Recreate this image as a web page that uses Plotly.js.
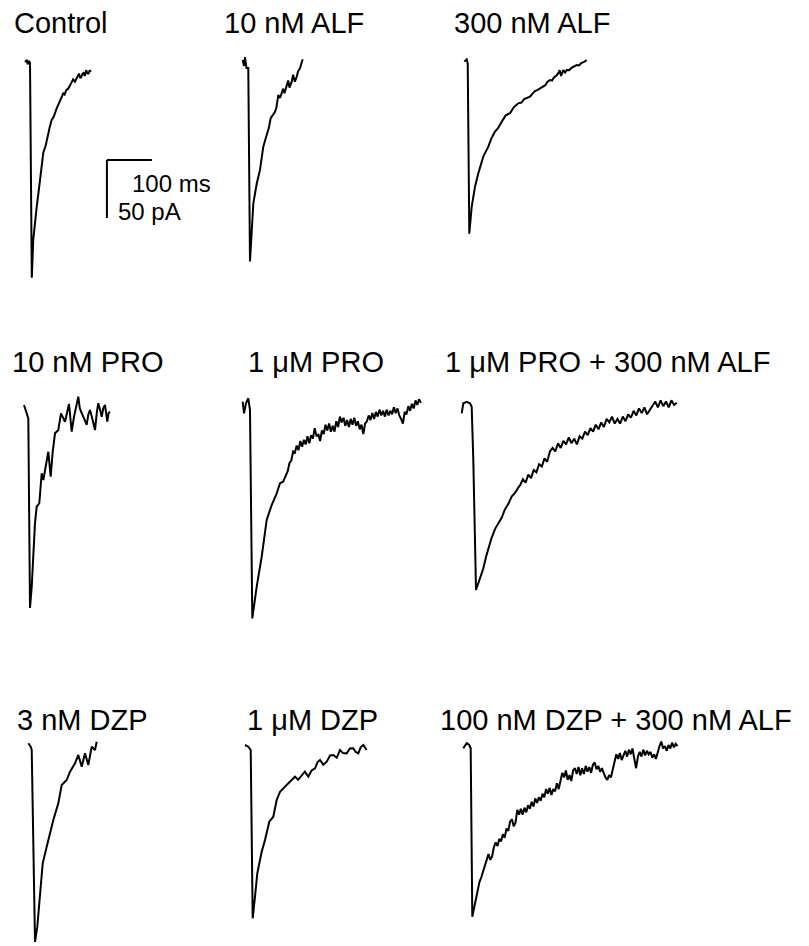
<!DOCTYPE html>
<html>
<head>
<meta charset="utf-8">
<script src="https://cdn.plot.ly/plotly-3.0.1.min.js"></script>
<style>
html,body{margin:0;padding:0;background:#fff;}
#chart{width:809px;height:946px;}
</style>
</head>
<body>
<div id="chart"></div>
<script>
// ---------------- DATA (time in ms from sweep start, current in pA relative to baseline) ----------------
const labels = ["Control", "10 nM ALF", "300 nM ALF",
                "10 nM PRO", "1 \u03bcM PRO", "1 \u03bcM PRO + 300 nM ALF",
                "3 nM DZP", "1 \u03bcM DZP", "100 nM DZP + 300 nM ALF"];

const control_t  = [0, 4.4, 6, 8.9, 11.1, 15.1, 18.4, 22, 26, 33.3, 37, 40.7, 46, 51.8, 55, 59.3, 64, 70.4, 74, 78, 82, 85.1, 88, 92, 96, 100, 104, 107, 111, 115, 118, 120, 123, 125, 128, 130, 133, 136, 139, 141, 144, 146];
const control_pA = [0, 1.7, -2, 0.9, -0.9, -186, -153, -138, -125, -102, -92, -78, -72, -61, -56, -50, -47, -40, -37, -33, -31, -27, -28, -24, -23, -20, -18, -15, -17, -14, -12, -10, -14, -13, -10, -9.5, -12, -7, -10, -10, -7, -8.6];

const alf10_t  = [0, 2.9, 5.1, 8.4, 12.4, 16.2, 23.6, 31.1, 38.4, 45.8, 53.3, 58, 62.2, 67, 71.8, 75, 79.1, 83, 86.7, 90, 93, 97.8, 101, 104, 108.9, 112, 116, 120, 123, 127.3, 130, 133.3];
const alf10_pA = [1.7, -3.4, 4.3, -5.2, -5.2, -172, -122, -105, -93, -73, -63, -57, -48.5, -46, -43, -39, -28.4, -31, -27, -23, -27, -21.3, -16, -22, -17, -11, -17, -12.7, -8, -5.4, -2, 2.3];

const alf300_t  = [0, 5.3, 7.6, 11.1, 16.4, 23.8, 31.1, 42.2, 53.3, 60, 68.2, 75, 83.1, 92, 101.6, 110, 120, 127, 133, 140, 146, 152, 157, 163, 168.2, 174, 180, 185, 190.4, 195, 200, 204, 208.9, 212, 215, 220, 224, 227.6, 233, 238, 244, 249.8, 255, 260, 266, 272];
const alf300_pA = [0.3, 2.3, -1.1, -148, -125, -107.5, -96, -81.6, -73, -66, -60, -57, -51.5, -46, -44.2, -39, -35.6, -35, -32, -31, -29.9, -27, -25, -24, -22.7, -21, -20, -17, -15.5, -16, -13, -12, -9.7, -7, -12, -7, -9, -6.9, -7, -5, -4, -2.6, -3, -1, 0, 1.7];

const pro10_t  = [0, 3.3, 6, 9.6, 13.3, 17.1, 24.4, 28.2, 34, 39.3, 42.9, 48.9, 54, 59.3, 63.8, 68.9, 76.2, 82.2, 91.1, 100, 106, 111.1, 116, 120.7, 124, 128.2, 134, 139.3, 143, 146.7, 152, 157.8, 162, 165.1, 169, 172.7, 176, 180, 185.1, 188, 191.1];
const pro10_pA = [0, -4.3, -7.2, -11.5, -175, -157, -102, -87.7, -84.7, -58.9, -64.7, -50.3, -40.3, -61.8, -40.3, -24.4, -21.6, -7.2, -14.4, 0.9, -23, -10.1, -2, 7.2, -3, -7.2, -13, -17.2, -8, -4.3, -12, -21.6, -6, 1.5, -4, -10.1, -3, 0, -14.4, -7, -5.8];

const pro1_t  = [0, 2.9, 7.3, 12.4, 16.2, 21.3, 31.1, 42.2, 53.3, 64.4, 75.6, 82.9, 90, 96,
  100,104,108,112,116,120,124,128,132,136,140,144,148,152,156,160,164,168,172,176,180,184,188,192,196,200,204,208,212,216,220,224,228,232,236,240,244,248,252,256,260,264,268,272,276,280,284,288,292,296,300,304,308,312,316,320,324,328,332,336,340,344,348,352,356,360,364,368,372,376,380,384,388,392,396];
const pro1_pA = [2.8, -7.2, 1.5, 5.8, -4.3, -184, -156.6, -130.8, -99.1, -86.2, -76.1, -67.5, -66, -60,
  -57,-50,-48,-40,-41,-35,-39,-31,-36,-30,-34,-27,-33,-26,-29,-20,-27,-25,-31,-22,-25,-17,-22,-16,-23,-18,-23,-14,-19,-10,-15,-11,-18,-13,-19,-12,-17,-11,-18,-14,-21,-17,-25,-16,-14,-9,-13,-7,-12,-6,-10,-4,-9,-5,-10,-4,-9,-5,-8,-2,-7,-3,-9,-12,-16,-6,-8,-1,-5,1,-3,4,0,5,2];

const proAlf_t  = [0, 3.6, 11.1, 18.4, 22.2, 25.8, 31.8, 36.9, 42, 48, 54, 59, 66, 74, 81, 89, 96, 104, 111, 118, 126,
  130,136,142,148,154,160,166,172,178,184,190,196,202,208,214,220,226,232,238,244,250,256,262,268,274,280,286,292,298,304,310,316,322,328,334,340,346,352,358,364,370,376,382,388,394,400,406,412,418,424,430,436,442,448,454,460,466,472,478];
const proAlf_pA = [-7.2, 1.5, 2.8, 1.5, -1.5, -47.4, -159.5, -153.7, -147, -141, -131, -124, -115, -107, -102, -97, -90, -85, -79, -76, -71,
  -69,-64,-67,-60,-63,-56,-58,-51,-53,-46,-49,-40,-37,-40,-33,-37,-31,-34,-28,-33,-29,-34,-27,-29,-23,-26,-20,-23,-17,-21,-15,-19,-12,-15,-10,-16,-12,-16,-10,-14,-8,-11,-5,-9,-3,-7,-2,-8,-4,-1,3,-2,4,-1,3,-2,4,0,2];

const dzp3_t  = [0, 5.3, 7.6, 14.9, 20, 26, 32, 40.9, 48.2, 55.6, 66.7, 74.2, 85.3, 92.7, 103.8, 111.1, 118.7, 126, 133.3, 140.9, 148.2, 152];
const dzp3_pA = [1.5, -1.5, -4.3, -169.8, -156.6, -130.8, -102, -87.7, -76.1, -64.7, -50.3, -34.5, -30.2, -23, -15.8, -8.6, -18.7, -7.2, -17.2, -1.5, -4.3, 2.8];

const dzp1_t  = [0, 7.3, 12.7, 17.1, 22.2, 27.3, 37.1, 44.4, 54, 62.9, 70.4, 77.8, 88.9, 100, 106, 111.1, 118, 126, 133, 140.7, 148, 155.6, 161, 166.7, 174, 181.6, 189, 196.2, 204, 211.1, 218, 226, 233, 240.7, 246, 251.8, 257, 262.9, 270.4];
const dzp1_pA = [0, -1.5, -4.3, -149.4, -130.8, -110.6, -92, -81.9, -66.1, -61.8, -47.4, -40.3, -35.9, -31.6, -29, -27.3, -30, -25.9, -23, -27.3, -22, -20.1, -15, -12.9, -17, -14.4, -9, -8.6, -11, -4.3, -7, -7.2, -3, -2.8, -6, -7.2, -2, 0, -4.3];

const dzpAlf_t  = [0, 7.6, 13.3, 16.4,
  20,24,28,32,36,40,44,48,52,56,60,64,68,72,76,80,84,88,92,96,100,104,108,112,116,120,124,128,132,136,140,144,148,152,156,160,164,168,172,176,180,184,188,192,196,200,204,208,212,216,220,224,228,232,236,240,244,248,252,256,260,264,268,272,276,280,284,288,292,296,300,304,308,312,316,320,324,328,332,336,340,344,348,352,356,360,364,368,372,376,380,384,388,392,396,400,404,408,412,416,420,424,428,432,436,440,444,448,452,456,460,464,468,472,476];
const dzpAlf_pA = [-2.8, 1.5, 0, -2.8,
  -148,-140,-133,-125,-118,-114,-108,-104,-99,-94,-99,-96,-88,-84,-87,-81,-83,-77,-80,-72,-74,-66,-64,-70,-67,-56,-60,-55,-60,-54,-58,-52,-55,-49,-53,-46,-50,-45,-48,-42,-45,-38,-42,-37,-43,-38,-40,-33,-38,-30,-24,-28,-22,-30,-26,-31,-22,-20,-25,-19,-26,-20,-25,-18,-23,-19,-24,-17,-15,-21,-18,-23,-20,-24,-28,-30,-26,-28,-22,-14,-8,-12,-7,-13,-9,-5,-10,-4,-8,-3,-12,-20,-10,-6,-10,-4,-9,-5,-8,-6,-11,-8,-12,-6,-1,3,-3,-1,-5,0,-3,2,-2,1,-1];

const scaleBarMs = 100;   // horizontal scale bar
const scaleBarPA = 50;    // vertical scale bar

const times    = [control_t, alf10_t, alf300_t, pro10_t, pro1_t, proAlf_t, dzp3_t, dzp1_t, dzpAlf_t];
const currents = [control_pA, alf10_pA, alf300_pA, pro10_pA, pro1_pA, proAlf_pA, dzp3_pA, dzp1_pA, dzpAlf_pA];

// ---------------- LAYOUT (pixel placement of each panel) ----------------
const W = 809, H = 946;
const PX_PER_MS = 0.45, PX_PER_PA = 1.16;
// origin (sweep start x, baseline y) of each panel in page pixels
const origins = [[25,62],[242.7,62],[464.3,62],[24,405],[242.7,405],[461.7,405],[28.3,745],[245,745],[463.3,745]];
// label anchor (left x, centre y)
const labelPos = [[12,23],[222,23],[452,23],[10,362],[246,362],[443,362],[15,720],[245,720],[438,720]];

const data = [];
const layout = {
  width: W, height: H,
  margin: {l:0, r:0, t:0, b:0},
  paper_bgcolor: '#fff', plot_bgcolor: 'rgba(0,0,0,0)',
  showlegend: false,
  annotations: [], shapes: []
};
const font = {family: 'Liberation Sans, Arial, sans-serif', color: '#000'};

for (let k = 0; k < 9; k++) {
  const [x0, yb] = origins[k];
  const left = Math.max(0, x0 - 15), right = Math.min(W, x0 + 240);
  const top = Math.max(0, yb - 50), bottom = Math.min(H, yb + 235);
  const sfx = k === 0 ? '' : String(k + 1);
  layout['xaxis' + sfx] = {
    domain: [left / W, right / W],
    range: [(left - x0) / PX_PER_MS, (right - x0) / PX_PER_MS],
    visible: false, showgrid: false, zeroline: false, fixedrange: true,
    anchor: 'y' + sfx
  };
  layout['yaxis' + sfx] = {
    domain: [1 - bottom / H, 1 - top / H],
    range: [-(bottom - yb) / PX_PER_PA, (yb - top) / PX_PER_PA],
    visible: false, showgrid: false, zeroline: false, fixedrange: true,
    anchor: 'x' + sfx
  };
  data.push({
    x: times[k], y: currents[k], type: 'scatter', mode: 'lines',
    line: {color: '#000', width: 2},
    xaxis: 'x' + sfx, yaxis: 'y' + sfx, hoverinfo: 'skip'
  });
  layout.annotations.push({
    text: labels[k], xref: 'paper', yref: 'paper',
    x: labelPos[k][0] / W, y: 1 - labelPos[k][1] / H,
    xanchor: 'left', yanchor: 'middle', showarrow: false,
    font: Object.assign({size: 29}, font)
  });
}

// scale bar in Control panel's axes
const sbT = 182, sbI = -84.5;
layout.shapes.push({type:'line', xref:'x', yref:'y', x0: sbT, x1: sbT + scaleBarMs, y0: sbI, y1: sbI, line:{color:'#000', width:2}});
layout.shapes.push({type:'line', xref:'x', yref:'y', x0: sbT, x1: sbT, y0: sbI, y1: sbI - scaleBarPA, line:{color:'#000', width:2}});
layout.annotations.push({text: scaleBarMs + ' ms', xref:'paper', yref:'paper', x: 130 / W, y: 1 - 184 / H,
  xanchor:'left', yanchor:'middle', showarrow:false, font: Object.assign({size: 24}, font)});
layout.annotations.push({text: scaleBarPA + ' pA', xref:'paper', yref:'paper', x: 116 / W, y: 1 - 212 / H,
  xanchor:'left', yanchor:'middle', showarrow:false, font: Object.assign({size: 24}, font)});

Plotly.newPlot('chart', data, layout, {staticPlot: true, displayModeBar: false});
</script>
</body>
</html>
